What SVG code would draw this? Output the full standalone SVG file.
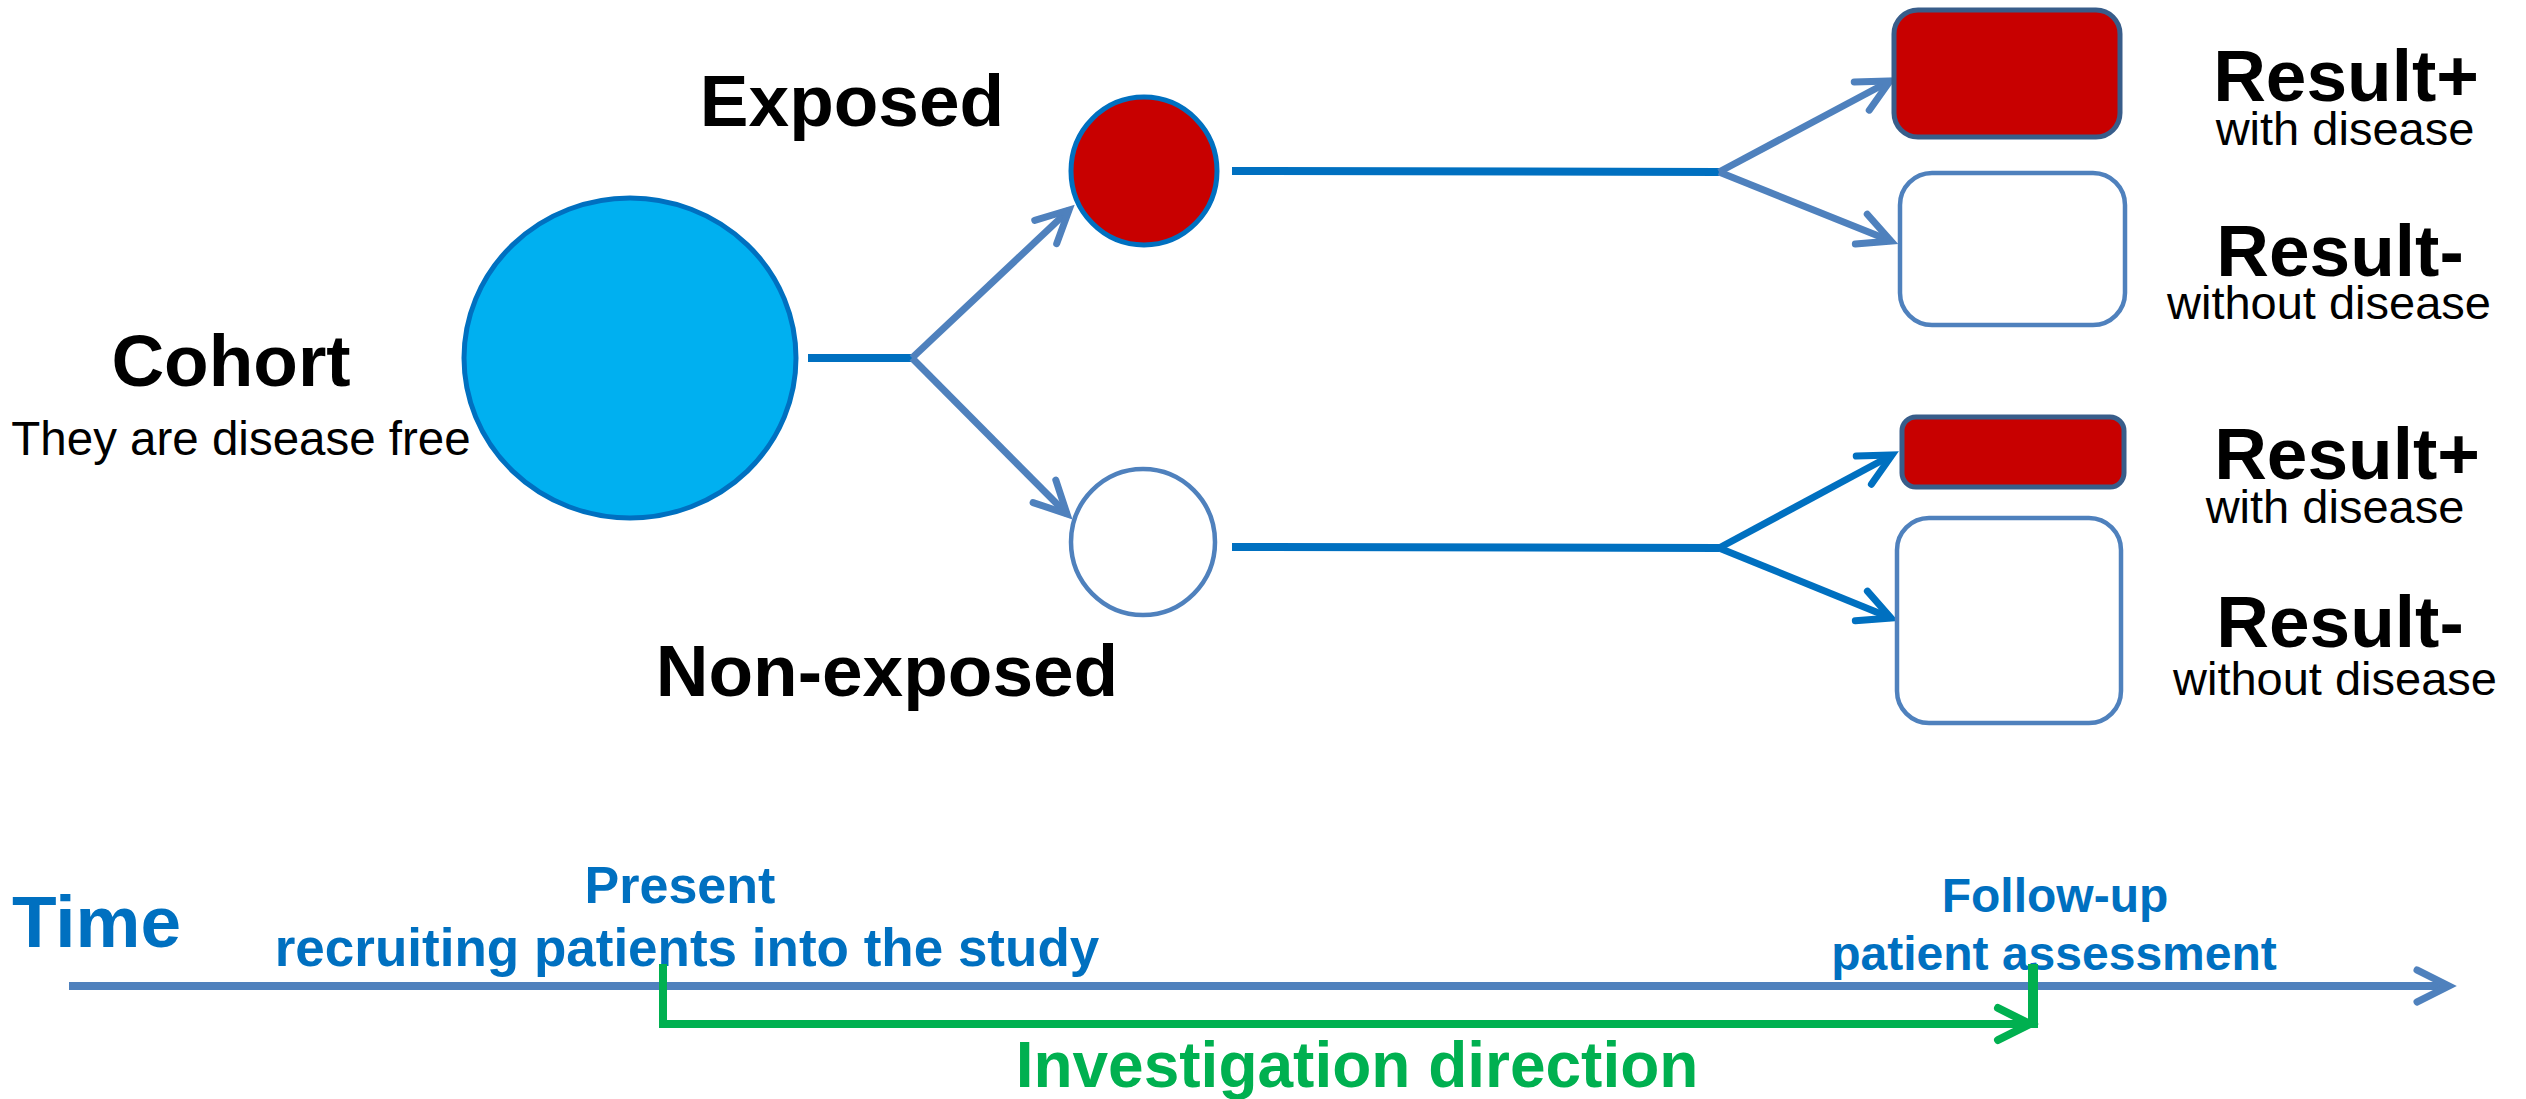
<svg xmlns="http://www.w3.org/2000/svg" width="2526" height="1099" viewBox="0 0 2526 1099">
<style>
.bold{font-family:"Liberation Sans",Arial,sans-serif;font-weight:bold;fill:#000}
.reg{font-family:"Liberation Sans",Arial,sans-serif;fill:#000}
.blue{fill:#0070C0}
.green{fill:#00B050}
.ln-dk{fill:none;stroke:#0070C0;stroke-width:8}
.ln-lt{fill:none;stroke:#4F81BD;stroke-width:7}
.ln-dk2{fill:none;stroke:#0070C0;stroke-width:7}
.ln-gr{fill:none;stroke:#00B050;stroke-width:8}
.red{fill:#C80000;stroke:#385D8A;stroke-width:5}
.white{fill:#fff;stroke:#4F81BD;stroke-width:4.5}
</style>
<defs>
<marker id="ah-lt" viewBox="-40 -20 44 40" refX="0" refY="0" markerWidth="44" markerHeight="40" markerUnits="userSpaceOnUse" orient="auto" overflow="visible">
<path d="M-32,-16 L0,0 L-32,16" fill="none" stroke="#4F81BD" stroke-width="7" stroke-linecap="round"/>
</marker>
<marker id="ah-dk" viewBox="-40 -20 44 40" refX="0" refY="0" markerWidth="44" markerHeight="40" markerUnits="userSpaceOnUse" orient="auto" overflow="visible">
<path d="M-32,-16 L0,0 L-32,16" fill="none" stroke="#0070C0" stroke-width="7" stroke-linecap="round"/>
</marker>
<marker id="ah-gr" viewBox="-40 -20 44 40" refX="0" refY="0" markerWidth="44" markerHeight="40" markerUnits="userSpaceOnUse" orient="auto" overflow="visible">
<path d="M-32,-16 L0,0 L-32,16" fill="none" stroke="#00B050" stroke-width="8" stroke-linecap="round"/>
</marker>
</defs>
<rect width="2526" height="1099" fill="#fff"/>

<g id="connectors">
<path class="ln-dk" d="M808,358 H912"/>
<path class="ln-lt" d="M912,358 L1069,210" marker-end="url(#ah-lt)"/>
<path class="ln-lt" d="M912,358 L1067,514" marker-end="url(#ah-lt)"/>
<path class="ln-dk" d="M1232,171 L1719,172"/>
<path class="ln-lt" d="M1719,172 L1890,81" marker-end="url(#ah-lt)"/>
<path class="ln-lt" d="M1719,172 L1891,241" marker-end="url(#ah-lt)"/>
<path class="ln-dk" d="M1232,547 L1719,548"/>
<path class="ln-dk2" d="M1719,548 L1892,455" marker-end="url(#ah-dk)"/>
<path class="ln-dk2" d="M1719,548 L1891,618" marker-end="url(#ah-dk)"/>
</g>

<g id="cohort">
<ellipse cx="630" cy="358" rx="166" ry="160" fill="#00B0F0" stroke="#0070C0" stroke-width="5"/>
<text class="bold" x="231" y="386" font-size="73" text-anchor="middle">Cohort</text>
<text class="reg" x="241" y="455" font-size="47.5" text-anchor="middle">They are disease free</text>
</g>

<g id="exposed">
<ellipse cx="1144" cy="171" rx="73" ry="74" fill="#C80000" stroke="#0070C0" stroke-width="5"/>
<text class="bold" x="852" y="126" font-size="73" text-anchor="middle">Exposed</text>
</g>

<g id="non-exposed">
<ellipse cx="1143" cy="542" rx="72" ry="73" fill="#fff" stroke="#4F81BD" stroke-width="4.5"/>
<text class="bold" x="887" y="696" font-size="73" text-anchor="middle">Non-exposed</text>
</g>

<g id="exposed-result-pos">
<rect class="red" x="1894" y="10" width="226" height="127" rx="24"/>
<text class="bold" x="2346" y="101" font-size="73" text-anchor="middle">Result+</text>
<text class="reg" x="2345" y="145" font-size="47" text-anchor="middle">with disease</text>
</g>

<g id="exposed-result-neg">
<rect class="white" x="1900" y="173" width="225" height="152" rx="32"/>
<text class="bold" x="2340" y="276" font-size="73" text-anchor="middle">Result-</text>
<text class="reg" x="2329" y="319" font-size="47" text-anchor="middle">without disease</text>
</g>

<g id="nonexposed-result-pos">
<rect class="red" x="1902" y="417" width="222" height="70" rx="14"/>
<text class="bold" x="2347" y="479" font-size="73" text-anchor="middle">Result+</text>
<text class="reg" x="2335" y="523" font-size="47" text-anchor="middle">with disease</text>
</g>

<g id="nonexposed-result-neg">
<rect class="white" x="1897" y="518" width="224" height="205" rx="32"/>
<text class="bold" x="2340" y="647" font-size="73" text-anchor="middle">Result-</text>
<text class="reg" x="2335" y="695" font-size="47" text-anchor="middle">without disease</text>
</g>

<g id="timeline">
<path d="M69,986 H2449" fill="none" stroke="#4F81BD" stroke-width="8" marker-end="url(#ah-lt)"/>
<text class="bold blue" x="12" y="947" font-size="73">Time</text>
<text class="bold blue" x="680" y="903" font-size="52" text-anchor="middle">Present</text>
<text class="bold blue" x="687" y="966" font-size="53" text-anchor="middle">recruiting patients into the study</text>
<text class="bold blue" x="2055" y="912" font-size="48" text-anchor="middle">Follow-up</text>
<text class="bold blue" x="2054" y="970" font-size="48" text-anchor="middle">patient assessment</text>
</g>

<g id="investigation">
<path class="ln-gr" d="M663,964 V1024 H2030" marker-end="url(#ah-gr)"/>
<path d="M2033,964 V1028" fill="none" stroke="#00B050" stroke-width="10"/>
<text class="bold green" x="1357" y="1087" font-size="64" text-anchor="middle">Investigation direction</text>
</g>
</svg>
